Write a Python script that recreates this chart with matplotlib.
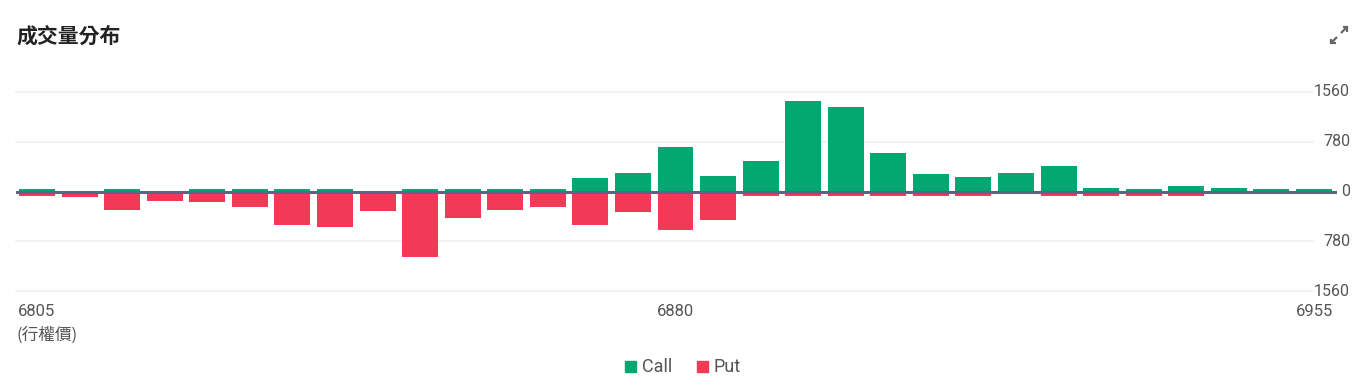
import matplotlib
matplotlib.use("Agg")
import matplotlib.pyplot as plt
from matplotlib.patches import Rectangle
from matplotlib.lines import Line2D

strikes = list(range(6805, 6960, 5))
call_vol = [37, 0, 37, 0, 37, 37, 37, 37, 0, 37, 37, 37, 37, 211, 290, 695, 248, 474,
            1422, 1327, 600, 279, 232, 290, 400, 58, 47, 79, 58, 32, 32]
put_vol = [63, 79, 284, 142, 158, 237, 527, 553, 300, 1027, 411, 284, 242, 532, 327, 611, 448,
           63, 63, 63, 63, 63, 63, 0, 63, 63, 63, 63, 0, 0, 0]
y_ticks = [1560, 780, 0, -780, -1560]
x_labels = {6805: "6805", 6880: "6880", 6955: "6955"}

GREEN = "#02a86f"
RED = "#f23a57"
ZERO = "#5c667a"
GRID = "#f0f0f0"
TXT = "#555555"
NUM_FONT = ["Roboto", "DejaVu Sans"]
CJK_FONT = ["Noto Sans CJK TC", "DejaVu Sans"]

W, H = 1368, 390
fig = plt.figure(figsize=(W / 100, H / 100), dpi=100)
fig.patch.set_facecolor("white")

ax_l, ax_r, ax_t, ax_b = 16, 1337, 92, 291
ax = fig.add_axes([ax_l / W, 1 - ax_b / H, (ax_r - ax_l) / W, (ax_b - ax_t) / H])
ax.set_facecolor("none")
for s in ax.spines.values():
    s.set_visible(False)
ax.set_xticks([])
ax.set_yticks([])

step = 5
px_per_step = 42.57
left_off = (37 - ax_l) / px_per_step * step
right_off = (ax_r - 1314) / px_per_step * step
ax.set_xlim(strikes[0] - left_off, strikes[-1] + right_off)
ax.set_ylim(-1560, 1560)

bw = 36 / px_per_step * step
ax.bar(strikes, call_vol, width=bw, color=GREEN, zorder=2)
ax.bar(strikes, [-v for v in put_vol], width=bw, color=RED, zorder=2)

gx_end = (1313 - ax_l) / (ax_r - ax_l)
for yv in y_ticks:
    if yv == 0:
        continue
    ax.plot([0, gx_end], [yv, yv], transform=ax.get_yaxis_transform(),
            color=GRID, lw=1.2, zorder=0, clip_on=False)
ax.axhline(0, color=ZERO, lw=2.2, zorder=3)

# y labels on right
for yv in y_ticks:
    ypix = ax.transData.transform((0, yv))[1]
    fig.text(1350 / W, ypix / H, f"{abs(yv)}", ha="right", va="center",
             fontsize=11.5, color=TXT, family=NUM_FONT)

# x labels
for k, lab in x_labels.items():
    xpix = ax.transData.transform((k, 0))[0]
    fig.text(xpix / W, 1 - 312 / H, lab, ha="center", va="center",
             fontsize=12, color=TXT, family=NUM_FONT)
fig.text(16 / W, 1 - 335 / H, "(行權價)", ha="left", va="center",
         fontsize=12, color=TXT, family=CJK_FONT)

# title
fig.text(16 / W, 1 - 36 / H, "成交量分布", ha="left", va="center",
         fontsize=15, color="#222222", family=CJK_FONT, weight="bold")


# expand icon (pixel coordinates)
def pline(xs, ys):
    fig.add_artist(Line2D([x / W for x in xs], [1 - y / H for y in ys],
                          color="#666666", lw=1.6, solid_capstyle="butt",
                          solid_joinstyle="miter", transform=fig.transFigure))


pline([1341, 1347], [33, 27])
pline([1342.5, 1347, 1347], [27, 27, 31.5])
pline([1337, 1331], [37, 43])
pline([1331, 1331, 1335.5], [38.5, 43, 43])

# legend
fig.patches.append(Rectangle((625 / W, 1 - 372 / H), 11 / W, 11 / H, color=GREEN,
                             transform=fig.transFigure, figure=fig))
fig.text(642 / W, 1 - 367 / H, "Call", ha="left", va="center", fontsize=13,
         color=TXT, family=NUM_FONT)
fig.patches.append(Rectangle((697 / W, 1 - 372 / H), 11 / W, 11 / H, color=RED,
                             transform=fig.transFigure, figure=fig))
fig.text(714 / W, 1 - 367 / H, "Put", ha="left", va="center", fontsize=13,
         color=TXT, family=NUM_FONT)

fig.savefig("out.png", dpi=100, facecolor="white")
